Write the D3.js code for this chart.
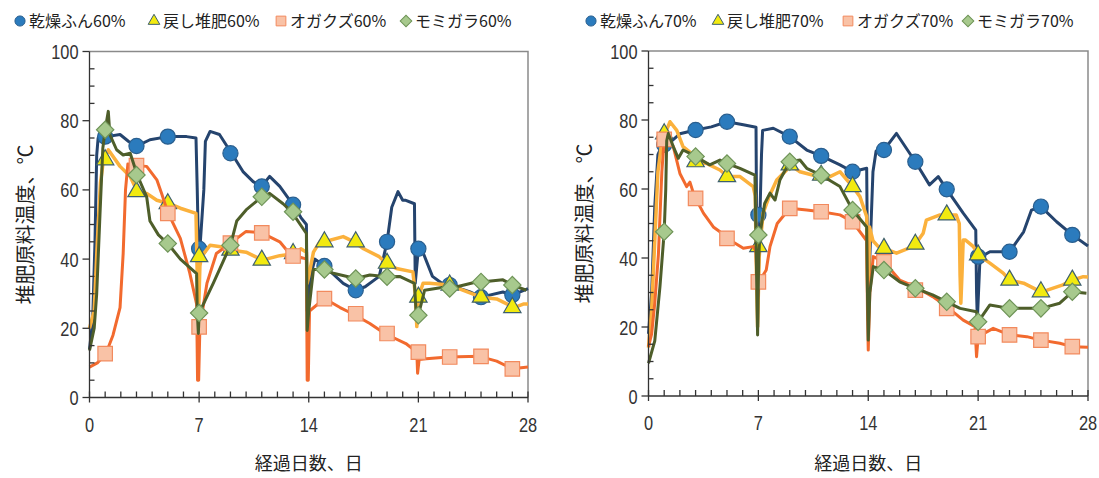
<!DOCTYPE html>
<html>
<head>
<meta charset="utf-8">
<script src="https://cdn.jsdelivr.net/npm/d3@7"></script>
<style>
  body { margin: 0; background: #fff; }
  svg { display: block; }
  .tick-label { font-family: "Liberation Sans", Arial, sans-serif; font-size: 21px; fill: #333; }
  .jp { font-family: "Noto Sans CJK JP", "Noto Sans", sans-serif; fill: #222; }
</style>
</head>
<body>
<div id="vizcontainer"></div>
<script>
const
  width = 1099,
  height = 478
  ;

// days where the markers sit
const markerDays = [1, 3, 5, 7, 9, 11, 13, 15, 17, 19, 21, 23, 25, 27];
const xTickLabels = [0, 7, 14, 21, 28];
const yTickLabels = [0, 20, 40, 60, 80, 100];

// ---- 60% moisture ----
const dry60 = [[0,14],[0.2,22],[0.35,45],[0.46,70],[0.55,75],[1.1,75.4],[1.95,76],[2.5,74],[3.05,72.7],[3.86,74.5],[5.0,75.4],[6.2,75.4],[6.8,75],[6.88,60],[6.95,45],[7.05,43],[7.3,60],[7.4,74],[7.7,76.9],[8.3,76],[9.07,70.6],[9.8,65.3],[10.45,62.4],[11.0,61],[11.5,63.9],[12.15,61],[13.0,55.7],[13.5,52],[13.85,50],[13.9,25],[14.1,35],[14.4,40],[15.0,38],[16.2,33],[17.0,31],[17.6,32],[18.5,35],[19.0,45],[19.3,55],[19.7,59.5],[20.0,57],[20.2,57],[20.75,56],[20.8,33],[21.0,43],[21.2,43],[21.9,35],[22.5,33],[23,32.5],[24.3,30.5],[25,29],[26.4,30.5],[27,29.6],[28,31.5]];
const dry60Marks = [75.4, 72.7, 75.4, 43, 70.6, 61, 55.7, 38, 31, 45, 43, 32.5, 29, 29.6];

const rev60 = [[0,20],[0.3,25],[0.5,45],[0.7,62],[0.9,69],[1.2,71.6],[1.95,66.8],[2.6,63.9],[3.05,59.5],[3.65,59],[4.3,57],[5.1,56],[5.8,54.7],[6.8,53.2],[6.88,35],[6.95,22],[7.05,38],[7.15,40.7],[7.7,44],[8.5,43.5],[9.0,42.6],[10.0,42],[11.05,39.7],[12.15,41],[13.2,41.6],[13.5,43],[13.85,42],[13.9,33],[14.0,35],[14.3,42],[14.7,45],[15,45],[16.2,46.5],[16.9,45],[17.5,43],[18.5,40.7],[18.95,38.8],[19.6,37.3],[20.65,36.3],[20.8,30],[20.9,20.5],[21.0,29],[21.3,33],[21.7,33],[23,32.5],[25,29],[26,28.5],[27.1,26],[27.7,27],[28,27]];
const rev60Marks = [68.7, 59.5, 56, 40.7, 42.6, 39.7, 41.6, 45, 45, 38.8, 29, 32.5, 29, 26];

const saw60 = [[0,8.8],[0.5,10],[1.05,12.7],[1.5,18],[1.95,26],[2.15,41.6],[2.3,60],[2.45,67.5],[3.0,67],[3.65,66.8],[4.3,62.9],[4.6,59],[5.0,53.5],[5.8,46],[6.4,36],[6.84,27],[6.9,5],[6.97,5],[7.05,20.4],[7.5,33],[8.1,41.6],[9.0,44.6],[10.0,48],[11.0,47.6],[12.15,45],[12.9,40.9],[13.5,40.5],[13.85,40],[13.9,5],[13.97,5],[14.05,25],[15.0,28.6],[16,26],[16.8,24.2],[17.9,21.4],[18.85,18.5],[20.2,15.6],[20.9,13.1],[20.95,7],[21.05,11],[21.5,11.2],[22.9,11.7],[24.9,11.9],[26,10.5],[27,8.3],[28,8.8]];
const saw60Marks = [12.7, 67, 53.2, 20.4, 44.6, 47.6, 40.9, 28.6, 24.2, 18.5, 13.1, 11.7, 11.9, 8.3];

const hull60 = [[0,13.6],[0.3,20],[0.46,30],[0.67,53],[0.85,72],[1.0,77.4],[1.2,82.7],[1.3,76],[1.73,71.6],[2.15,70.1],[2.6,70.6],[3.05,64.3],[3.65,58],[3.86,51],[4.4,47],[5.0,44.5],[5.8,40],[6.84,35.8],[6.88,25],[6.95,18.5],[7.0,24.4],[7.9,33],[8.5,39],[9.0,44],[9.4,51],[10.0,54.2],[11.0,58],[11.5,59],[12.36,56],[12.9,53.7],[13.85,47.4],[13.9,19.4],[14.0,25],[14.3,37],[14.9,37],[15.5,36],[17,34.4],[17.9,35.4],[19,34.9],[19.8,35],[20.75,33],[20.85,25],[21.0,23.8],[21.4,31],[22.8,32],[23,31.5],[24.7,33.4],[25,33.4],[26.4,34],[27,32.5],[27.9,31]];
const hull60Marks = [77.4, 64.3, 44.5, 24.4, 44, 58, 53.7, 37, 34.4, 34.9, 23.8, 31.5, 33.4, 32.5];

// ---- 70% moisture ----
const dry70 = [[0,18],[0.2,30],[0.4,55],[0.6,70],[0.8,72],[1.0,72.8],[1.5,74],[2.0,76],[3.0,77.1],[4.0,78],[5.0,79.5],[6.04,78.6],[6.85,77.9],[6.9,40],[6.95,20],[7.05,45],[7.1,52.5],[7.2,70],[7.27,77],[7.95,77.6],[9.0,75.2],[10.08,71.3],[11.0,69.6],[12.2,67],[13.0,65],[13.9,66],[13.95,40],[14.0,24],[14.1,40],[14.3,65],[14.5,71],[15.0,71.3],[15.8,76.1],[16.0,74.7],[17.0,67.9],[17.9,61.2],[18.46,63.6],[19.0,59.9],[20.05,53],[20.85,48.1],[20.9,30],[20.95,22],[21.1,38],[21.2,40.4],[21.75,41.8],[23.0,41.8],[23.9,47.6],[24.4,53.9],[25.0,54.9],[26.0,50.5],[27.0,46.7],[28,43.5]];
const dry70Marks = [72.8, 77.1, 79.5, 52.5, 75.2, 69.6, 65, 71.3, 67.9, 59.9, 40.4, 41.8, 54.9, 46.7];

const rev70 = [[0,14],[0.2,25],[0.4,45],[0.6,65],[0.8,72],[1.05,76],[1.37,79.5],[1.8,77],[2.2,72.3],[2.85,69.9],[3.05,67.9],[3.7,67.4],[4.55,65.5],[5.05,63.6],[5.83,63.6],[6.67,60.7],[6.8,58],[6.88,35],[6.95,20],[7.05,40],[7.1,43.3],[7.3,53],[7.7,58],[8.17,62.6],[8.8,65.5],[9.0,67],[9.65,65],[10.5,64],[11.0,64],[11.56,63.6],[12.2,65],[13.0,60.7],[13.47,57.8],[13.9,52],[13.95,35],[14.0,22],[14.08,49],[14.3,45],[14.64,43.3],[15.0,42.8],[15.8,41.4],[16.55,42.8],[17.0,44],[17.5,47.2],[17.7,51],[18.57,52.5],[19.0,52.5],[19.6,52.5],[19.8,50],[19.85,35],[19.9,26.9],[19.97,35],[20.05,45.2],[20.2,45.2],[20.7,43.3],[21.0,40.9],[21.75,38.5],[22.6,35.6],[23.0,33.6],[23.9,32.7],[25.0,30.2],[25.4,30.7],[26.4,32.2],[27.0,33.6],[27.7,34.6],[28,34.5]];
const rev70Marks = [76, 67.9, 63.6, 43.3, 67, 64, 60.7, 42.8, 44, 52.5, 40.9, 33.6, 30.2, 33.6];

const saw70 = [[0,14.3],[0.2,18],[0.4,27],[0.63,41],[0.85,65],[1.0,74.4],[1.58,72.3],[2.0,64.5],[2.43,60.7],[2.64,62],[2.86,58.8],[3.0,57.3],[3.5,53],[4.13,49],[4.55,47.6],[5.0,45.7],[6.04,42.8],[6.67,43.3],[6.85,42],[6.95,28],[7.05,33.1],[7.5,36.5],[7.74,43.3],[8.2,50],[9.0,54.4],[10.08,53.9],[11.0,53.4],[12.2,52.5],[13.0,50.5],[13.9,45],[13.95,25],[14.0,13.3],[14.1,30],[14.32,40.4],[15.0,38.9],[16.0,33.6],[17.0,31.7],[18.1,28.8],[19.0,25.9],[20.05,22],[20.8,20.1],[20.9,11.4],[21.0,17.2],[21.96,19.6],[23.0,17.7],[24.1,17.2],[25.0,16.2],[26.2,15.3],[27.0,14.3],[28,14.1]];
const saw70Marks = [74.4, 57.3, 45.7, 33.1, 54.4, 53.4, 50.5, 38.9, 30.7, 25.4, 17.2, 17.7, 16.2, 14.3];

const hull70 = [[0,9.5],[0.4,16],[0.73,31.7],[1.0,47.6],[1.1,60],[1.16,74],[1.26,76.1],[1.58,72.3],[1.9,68.9],[2.2,71.3],[2.64,70.3],[3.0,69.4],[3.9,67],[4.55,68.4],[5.0,67.4],[5.83,66],[6.78,64],[6.85,45],[6.95,17.7],[7.02,40],[7.1,46.7],[7.4,55.8],[7.74,58.8],[8.06,56.8],[8.37,62.6],[9.0,67.9],[9.65,68.4],[10.08,66],[11.0,64],[12.2,60.7],[13.0,53.9],[13.9,49],[13.95,30],[14.0,16.2],[14.1,30],[14.32,37.5],[15.0,36.5],[16.0,33.1],[17.0,31.2],[18.1,29.3],[19.0,27.3],[19.85,25.4],[20.9,24.4],[21.0,21.5],[21.75,26.4],[23.0,25.4],[24.1,25.4],[25.0,25.4],[26.2,26.9],[27.0,30.2],[27.9,29.8]];
const hull70Marks = [47.6, 69.4, 67.4, 46.7, 67.9, 64, 53.9, 36.5, 31.2, 27.3, 21.5, 25.4, 25.4, 30.2];

const names60 = ['乾燥ふん60%', '戻し堆肥60%', 'オガクズ60%', 'モミガラ60%'];
const names70 = ['乾燥ふん70%', '戻し堆肥70%', 'オガクズ70%', 'モミガラ70%'];

// series look: line colour, marker shape/fill/stroke (diamond = rotated square)
const styles = [
  { line: '#25446e', lw: 3, shape: d3.symbolCircle, size: 180, rot: 0, fill: '#2b7bbd', stroke: '#2a5f8f' },
  { line: '#fbb13c', lw: 3.5, shape: d3.symbolTriangle, size: 130, rot: 0, fill: '#f2ea10', stroke: '#3d5f6e' },
  { line: '#f26a2e', lw: 3, shape: d3.symbolSquare, size: 210, rot: 0, fill: '#f9c2a6', stroke: '#f28a5e' },
  { line: '#4e5e2a', lw: 3, shape: d3.symbolSquare, size: 150, rot: 45, fill: '#a7c98d', stroke: '#6f9458' }
];

let svg = d3.select('#vizcontainer')
  .append('svg')
  .attr('width', width)
  .attr('height', height);

function drawPanel(box, lines, marks, names, legendX) {
  const x = d3.scaleLinear().domain([0, 28]).range([box.x0, box.x1]);
  const y = d3.scaleLinear().domain([0, 100]).range([box.y0, box.y1]);
  const g = svg.append('g');

  // frame: top and right in grey
  g.append('path')
    .attr('d', `M${box.x0},${box.y1}H${box.x1}V${box.y0}`)
    .attr('fill', 'none').attr('stroke', '#8a8a8a').attr('stroke-width', 1.5);

  // series: line then markers, in order
  const line = d3.line().x(d => x(d[0])).y(d => y(d[1]));
  lines.forEach((ser, i) => {
    const st = styles[i];
    g.append('path')
      .datum(ser)
      .attr('d', line)
      .attr('fill', 'none')
      .attr('stroke', st.line)
      .attr('stroke-width', st.lw)
      .attr('stroke-linejoin', 'round');
    g.selectAll('.m' + i)
      .data(markerDays.map((d, k) => [d, marks[i][k]]))
      .join('path')
      .attr('class', 'm' + i)
      .attr('transform', d => `translate(${x(d[0])},${y(d[1])}) rotate(${st.rot})`)
      .attr('d', d3.symbol().type(st.shape).size(st.size))
      .attr('fill', st.fill)
      .attr('stroke', st.stroke)
      .attr('stroke-width', 1.2);
  });

  // axes
  const ax = g.append('g').attr('stroke', '#333').attr('stroke-width', 1.3);
  ax.append('line').attr('x1', box.x0).attr('x2', box.x1).attr('y1', box.y0).attr('y2', box.y0);
  ax.append('line').attr('x1', box.x0).attr('x2', box.x0).attr('y1', box.y0).attr('y2', box.y1);
  d3.range(0, 29).forEach(d => {
    const major = xTickLabels.includes(d);
    ax.append('line')
      .attr('x1', x(d)).attr('x2', x(d))
      .attr('y1', box.y0 - 6).attr('y2', box.y0 + (major ? 5 : 0));
  });
  d3.range(0, 101, 5).forEach(v => {
    const major = yTickLabels.includes(v);
    ax.append('line')
      .attr('x1', major ? box.x0 - 7 : box.x0).attr('x2', major ? box.x0 : box.x0 + 5)
      .attr('y1', y(v)).attr('y2', y(v));
  });

  // narrow digits: squeeze horizontally
  g.selectAll('.xl')
    .data(xTickLabels)
    .join('text')
    .attr('class', 'tick-label')
    .attr('transform', d => `translate(${x(d)},${box.y0 + 34}) scale(0.78,1)`)
    .attr('text-anchor', 'middle')
    .text(d => d);
  g.selectAll('.yl')
    .data(yTickLabels)
    .join('text')
    .attr('class', 'tick-label')
    .attr('transform', d => `translate(${box.x0 - 11},${y(d) + 7.5}) scale(0.78,1)`)
    .attr('text-anchor', 'end')
    .text(d => d);

  // axis titles
  g.append('text').attr('class', 'jp')
    .attr('x', (box.x0 + box.x1) / 2).attr('y', 470)
    .attr('text-anchor', 'middle').attr('font-size', 18)
    .text('経過日数、日');
  g.append('text').attr('class', 'jp')
    .attr('transform', `translate(${box.x0 - 57},${(box.y0 + box.y1) / 2}) rotate(-90)`)
    .attr('text-anchor', 'middle').attr('font-size', 20)
    .text('堆肥原料温度、℃');

  // legend
  const lg = g.append('g').attr('transform', 'translate(0,21)');
  legendX.forEach((lx, i) => {
    const st = styles[i];
    lg.append('path')
      .attr('transform', `translate(${lx},0) rotate(${st.rot})`)
      .attr('d', d3.symbol().type(st.shape).size(st.size * 0.45))
      .attr('fill', st.fill).attr('stroke', st.stroke).attr('stroke-width', 1);
    lg.append('text').attr('class', 'jp')
      .attr('x', lx + 9).attr('y', 6)
      .attr('font-size', 16)
      .text(names[i]);
  });
}

drawPanel({ x0: 89.5, x1: 528, y0: 397.5, y1: 51.5 },
  [dry60, rev60, saw60, hull60],
  [dry60Marks, rev60Marks, saw60Marks, hull60Marks],
  names60, [20, 154, 281, 406]);

drawPanel({ x0: 648.5, x1: 1088, y0: 396, y1: 51 },
  [dry70, rev70, saw70, hull70],
  [dry70Marks, rev70Marks, saw70Marks, hull70Marks],
  names70, [591, 718, 848, 968]);
</script>
</body>
</html>
